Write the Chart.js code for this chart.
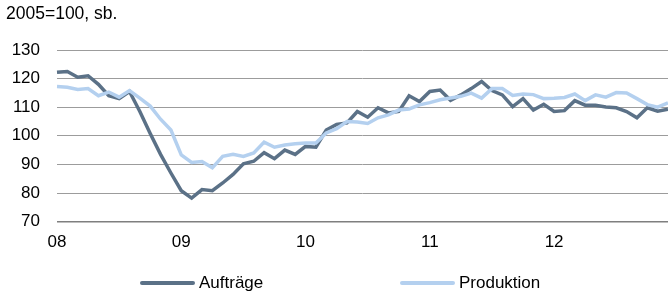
<!DOCTYPE html>
<html>
<head>
<meta charset="utf-8">
<script src="https://cdn.jsdelivr.net/npm/chart.js@4"></script>
<style>
  html, body { margin: 0; padding: 0; background: #fff; overflow: hidden; }
  #wrap { position: relative; width: 668px; height: 294px; overflow: hidden; font-family: "Liberation Sans", Arial, sans-serif; }
  #orderChart { display: block; }
  .leg { position: absolute; top: 272px; height: 22px; line-height: 22px; font-size: 17px; color: #000; white-space: nowrap; }
  .leg span { display: inline-block; width: 55px; height: 4px; border-radius: 2px; vertical-align: middle; margin-right: 4px; position: relative; top: -1px; }
</style>
</head>
<body>
<div id="wrap">
  <canvas id="orderChart" width="668" height="294"></canvas>
  <div class="leg" style="left:140px"><span style="background:#5b7187"></span>Aufträge</div>
  <div class="leg" style="left:400px"><span style="background:#b4d0ef"></span>Produktion</div>
</div>
<script>
// Aufträge und Produktion, monatlich Jan 2008 - Dez 2012 (2005=100, saisonbereinigt)
const years = ['08', '09', '10', '11', '12'];
const months = [];
years.forEach(function(y) {
  for (let m = 1; m <= 12; m++) months.push(y + '-' + m);
});

const auftraege = [
  122.2, 122.5, 120.5, 121, 118, 114, 113, 115.5, 108.5, 100.8, 93.5, 87,
  80.8, 78.2, 81.2, 80.8, 83.5, 86.5, 90.2, 91.1, 94.1, 92, 95, 93.5,
  96.3, 96, 102, 104, 104.5, 108.5, 106.5, 109.8, 108, 108.5, 114, 112,
  115.5, 116, 112.4, 114.3, 116.5, 119, 115.8, 114.3, 110.2, 113, 109, 111,
  108.5, 108.8, 112.3, 110.7, 110.7, 110.1, 109.8, 108.5, 106.3, 109.8, 108.6, 109.3
];

const produktion = [
  117.2, 117, 116.2, 116.5, 114, 115.3, 113.5, 115.8, 113.2, 110.4, 105.8, 102,
  93.3, 90.7, 91, 88.8, 92.8, 93.5, 92.8, 94, 97.8, 96, 96.8, 97.2,
  97.5, 97.5, 101, 102.5, 105, 104.8, 104.3, 106.3, 107.3, 109, 109.4, 110.8,
  111.6, 112.6, 113.2, 113.8, 114.9, 113.2, 116.5, 116.5, 114.1, 114.6, 114.4, 113,
  113.1, 113.4, 114.6, 112.3, 114.3, 113.5, 115.1, 115, 113, 110.9, 110, 111.5
];

const yTicks = [70, 80, 90, 100, 110, 120, 130];

const ctx = document.getElementById('orderChart').getContext('2d');
new Chart(ctx, {
  type: 'line',
  data: {
    labels: months,
    datasets: [
      {
        label: 'Aufträge',
        data: auftraege,
        borderColor: '#5b7187',
        borderWidth: 3.5,
        pointRadius: 0,
        tension: 0,
        fill: false,
        order: 2
      },
      {
        label: 'Produktion',
        data: produktion,
        borderColor: '#b4d0ef',
        borderWidth: 3.5,
        pointRadius: 0,
        tension: 0,
        fill: false,
        order: 1
      }
    ]
  },
  options: {
    responsive: false,
    animation: false,
    events: [],
    layout: {
      padding: { left: 6, right: 0, top: 0, bottom: 41 }
    },
    plugins: {
      legend: { display: false },
      tooltip: { enabled: false },
      title: {
        display: true,
        text: '2005=100, sb.',
        align: 'start',
        color: '#000',
        font: { family: 'Liberation Sans', size: 17.5, weight: 'normal', lineHeight: 1.2 },
        padding: { top: 4, bottom: 25 }
      }
    },
    scales: {
      x: {
        grid: { display: true, drawOnChartArea: false, drawTicks: true, tickLength: 11, color: 'rgba(0,0,0,0)' },
        border: { display: false },
        ticks: {
          autoSkip: false,
          maxRotation: 0,
          padding: 0,
          color: '#000',
          font: { family: 'Liberation Sans', size: 17 },
          callback: function(value, index) {
            return index % 12 === 0 ? years[index / 12] : '';
          }
        }
      },
      y: {
        min: yTicks[0],
        max: yTicks[yTicks.length - 1],
        afterFit: function(scale) { scale.width = 51; },
        afterBuildTicks: function(scale) {
          scale.ticks = yTicks.map(function(v) { return { value: v }; });
        },
        grid: {
          drawTicks: false,
          color: function(c) { return c.tick && c.tick.value === 70 ? '#7f7f7f' : '#9c9c9c'; },
          lineWidth: function(c) { return c.tick && c.tick.value === 70 ? 1.5 : 1; }
        },
        border: { display: false },
        ticks: {
          padding: 17,
          color: '#000',
          font: { family: 'Liberation Sans', size: 17 }
        }
      }
    }
  }
});
</script>
</body>
</html>
